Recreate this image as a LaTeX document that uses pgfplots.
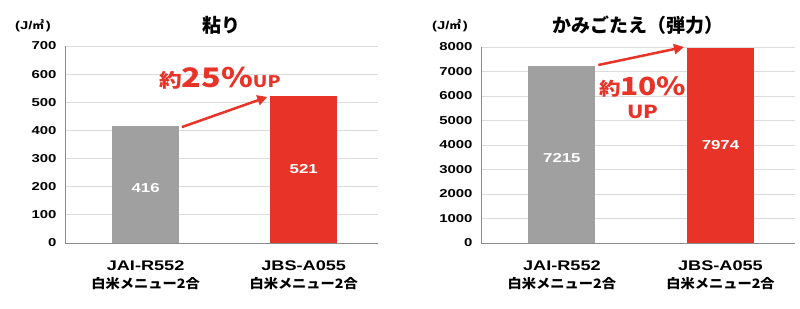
\documentclass[border=0pt]{standalone}
\usepackage{fontspec}
\setmainfont{Liberation Sans}
\newfontfamily\lat{Liberation Sans}[FakeStretch=1.3]
\newfontfamily\jp{Noto Sans CJK JP}
\newfontfamily\jpx{Noto Sans CJK JP}[FakeStretch=1.1]
\newfontfamily\jpw{Noto Sans CJK JP}[FakeStretch=1.2]
\usepackage{pgfplots}
\pgfplotsset{compat=1.18}
\usetikzlibrary{arrows.meta}
\definecolor{cgray}{HTML}{A0A0A0}
\definecolor{cred}{HTML}{E83328}
\definecolor{cgrid}{HTML}{DCDCDC}
\definecolor{caxis}{HTML}{8C8C8C}
\pgfplotsset{
  base/.style={
    scale only axis, anchor=south west, clip=false,
    ybar, bar width=67bp, ymin=0,
    xmin=-0.51, xmax=1.47, enlargelimits=false,
    xtick={0,1},
    xticklabels={{JAI-R552\\{\jpx\bfseries\fontsize{13}{18}\selectfont 白米メニュー2合}},{JBS-A055\\{\jpx\bfseries\fontsize{13}{18}\selectfont 白米メニュー2合}}},
    axis x line*=bottom, axis y line*=left,
    axis line style={draw=caxis, line width=1bp},
    major tick length=0pt,
    ymajorgrids, grid style={draw=cgrid, line width=1bp},
    /pgf/number format/assume math mode=true,
    /pgf/number format/1000 sep={},
    yticklabel style={font=\lat\bfseries\fontsize{11.5}{12}\selectfont, xshift=-5bp},
    xticklabel style={font=\lat\bfseries\fontsize{14}{18}\selectfont, align=center, yshift=-14bp},
  },
}
\tikzset{vlab/.style={text=white, font=\lat\bfseries\fontsize{13}{14}\selectfont}}
\begin{document}
\begin{tikzpicture}[x=1bp,y=1bp]
\useasboundingbox (0,0) rectangle (800,308);
% left panel
\begin{axis}[base, at={(65bp,65bp)}, width=313bp, height=197bp, ymax=700, ytick={0,100,...,700}]
\addplot[fill=cgray, draw=none, bar shift=0pt] coordinates {(0,416)};
\addplot[fill=cred, draw=none, bar shift=0pt] coordinates {(1,521)};
\node[vlab] at (axis cs:0,195) {416};
\node[vlab] at (axis cs:1,263) {521};
\draw[cred, line width=2.5bp, -{Triangle[length=10bp,width=10bp]}] (axis cs:0.23,412) -- (axis cs:0.77,519);
\node[text=cred, inner sep=0pt] at (axis cs:0.47,586) {{\jpw\bfseries\fontsize{19}{20}\selectfont 約}{\jpw\bfseries\fontsize{27}{28}\selectfont 25\%}{\jpw\bfseries\fontsize{16}{17}\selectfont UP}};
\end{axis}
% right panel
\begin{axis}[base, at={(481bp,65bp)}, width=314bp, height=196bp, ymax=8000, ytick={0,1000,...,8000}]
\addplot[fill=cgray, draw=none, bar shift=0pt] coordinates {(0,7215)};
\addplot[fill=cred, draw=none, bar shift=0pt] coordinates {(1,7974)};
\node[vlab] at (axis cs:0,3469) {7215};
\node[vlab] at (axis cs:1,4000) {7974};
\draw[cred, line width=2.5bp, -{Triangle[length=10bp,width=10bp]}] (axis cs:0.23,7265) -- (axis cs:0.77,8000);
\node[text=cred, inner sep=0pt] at (axis cs:0.51,6367) {{\jpw\bfseries\fontsize{18}{20}\selectfont 約}{\jpw\bfseries\fontsize{25}{26}\selectfont 10\%}};
\node[text=cred, inner sep=0pt] at (axis cs:0.51,5347) {\jpw\bfseries\fontsize{18}{19}\selectfont UP};
\end{axis}
% titles and units
\node at (221,283) {\jp\bfseries\fontsize{19}{20}\selectfont 粘り};
\node at (638,283) {\jp\bfseries\fontsize{19}{20}\selectfont かみごたえ（弾力）};
\node at (33,282) {\lat\bfseries\fontsize{11.5}{12}\selectfont (J/{\jp\bfseries ㎡}\,)};
\node at (450,282) {\lat\bfseries\fontsize{11.5}{12}\selectfont (J/{\jp\bfseries ㎡}\,)};
\end{tikzpicture}
\end{document}
